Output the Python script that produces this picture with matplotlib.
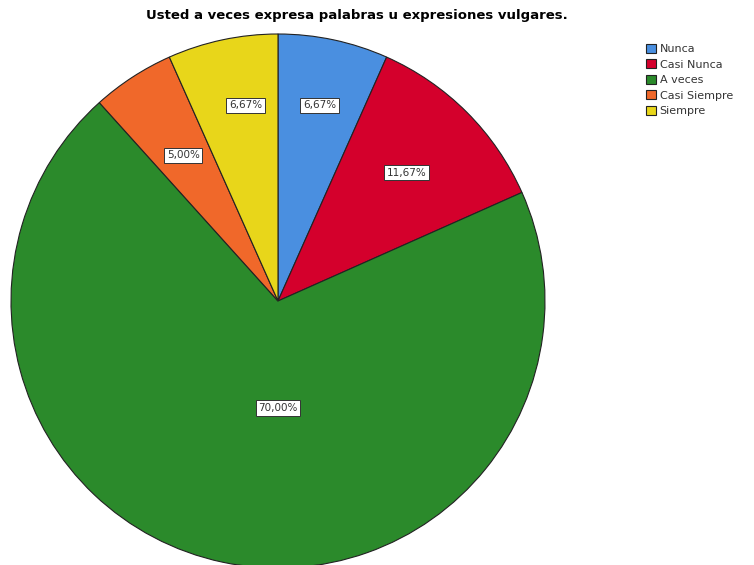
import matplotlib
matplotlib.use("Agg")
import matplotlib.pyplot as plt
import numpy as np

categorias = ["Nunca", "Casi Nunca", "A veces", "Casi Siempre", "Siempre"]
porcentajes = [6.67, 11.67, 70.00, 5.00, 6.67]
etiquetas = ["6,67%", "11,67%", "70,00%", "5,00%", "6,67%"]
colores = ["#4A8FE0", "#D4002C", "#2B8A2B", "#F0682A", "#E8D61A"]
radio_etiqueta = [0.75, 0.68, 0.41, 0.65, 0.75]
ajuste_x = [0.0, 0.0, 0.085, 0.0, 0.034]

fig = plt.figure(figsize=(7.54, 5.65), dpi=100)
ax = fig.add_axes([11 / 754, (565 - 568) / 565, 534 / 754, 534 / 565])

wedges, _ = ax.pie(porcentajes, colors=colores, startangle=90, counterclock=False,
                   wedgeprops=dict(edgecolor="#222222", linewidth=0.8))
ax.set_xlim(-1, 1)
ax.set_ylim(-1, 1)
ax.set_aspect("equal")

for w, txt, r, dx in zip(wedges, etiquetas, radio_etiqueta, ajuste_x):
    ang = np.deg2rad((w.theta1 + w.theta2) / 2)
    ax.text(r * np.cos(ang) + dx, r * np.sin(ang), txt, ha="center", va="center", fontsize=7.5,
            color="#333333",
            bbox=dict(boxstyle="square,pad=0.25", facecolor="white", edgecolor="#333333", linewidth=0.7))

fig.text(357 / 754, 1 - 15 / 565, "Usted a veces expresa palabras u expresiones vulgares.",
         ha="center", va="center", fontsize=9.5, fontweight="bold")

fig.legend(wedges, categorias, loc="upper left", bbox_to_anchor=(638 / 754, 1 - 36 / 565),
           frameon=False, fontsize=8, handlelength=0.9, handleheight=0.9,
           handletextpad=0.35, labelspacing=0.45, borderpad=0.2, labelcolor="#333333")

fig.savefig("out.png", dpi=100)
